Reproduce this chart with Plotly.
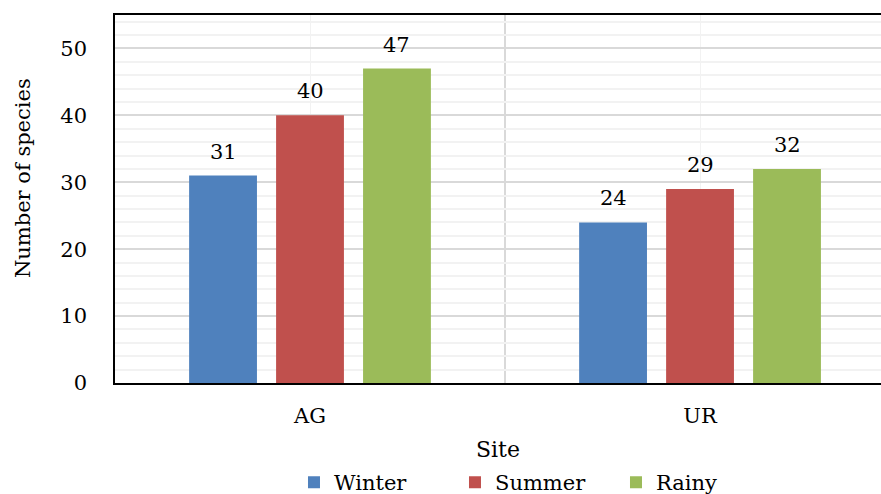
import plotly.graph_objects as go

# Species counts per site and season
sites = ["AG", "UR"]
seasons = ["Winter", "Summer", "Rainy"]
winter = [31, 24]
summer = [40, 29]
rainy = [47, 32]
colors = ["#4F81BD", "#C0504D", "#9BBB59"]
y_ticks = [0, 10, 20, 30, 40, 50]

series = [winter, summer, rainy]

FONT = "DejaVu Serif"
W, H = 881, 494
M_L, M_R, M_T, M_B = 115, 0, 15, 111
X_RANGE = [-0.5, 1.464]
BARGAP = 0.331
GROUPGAP = 0.22

x_pos = list(range(len(sites)))

fig = go.Figure()
for name, vals, col in zip(seasons, series, colors):
    fig.add_trace(go.Bar(
        x=x_pos, y=vals, name=name,
        marker=dict(color=col, line=dict(width=0)),
    ))

# value labels above each bar, placed at the centre of its slot
plot_w = W - M_L - M_R
px_per_cat = plot_w / (X_RANGE[1] - X_RANGE[0])
slot_px = px_per_cat * (1 - BARGAP) / len(seasons)
for i, vals in enumerate(series):
    for xp, v in zip(x_pos, vals):
        fig.add_annotation(
            x=xp, y=v, text=str(v), showarrow=False,
            xshift=(i - (len(seasons) - 1) / 2) * slot_px,
            yshift=24, yanchor="middle",
            font=dict(family=FONT, size=21, color="#000000"),
        )

# vertical axis title, sitting a little above the plot's mid-height
fig.add_annotation(
    text="Number of species", textangle=-90, showarrow=False,
    xref="paper", yref="paper", x=-0.120, y=0.557,
    xanchor="center", yanchor="middle",
    font=dict(family=FONT, size=21, color="#000000"),
)

fig.update_layout(
    width=W, height=H,
    margin=dict(l=M_L, r=M_R, t=M_T, b=M_B, autoexpand=False),
    paper_bgcolor="white", plot_bgcolor="white",
    barmode="group", bargap=BARGAP, bargroupgap=GROUPGAP,
    font=dict(family=FONT, size=21, color="#000000"),
    showlegend=True,
    legend=dict(
        orientation="h", xref="container", yref="container",
        x=0.3337, xanchor="left", y=0.023, yanchor="middle",
        entrywidthmode="pixels", entrywidth=116,
        font=dict(family=FONT, size=21, color="#000000"),
        bgcolor="rgba(0,0,0,0)",
    ),
)

fig.update_xaxes(
    range=X_RANGE,
    tickvals=x_pos, ticktext=sites,
    showgrid=True, gridcolor="#F2F2F2", gridwidth=1.3,
    minor=dict(tickvals=[0.5], showgrid=True, gridcolor="#D9D9D9", gridwidth=1.5),
    zeroline=False,
    showline=True, linecolor="#000000", linewidth=1.6, mirror=True,
    ticks="", ticklabelstandoff=13,
    title=dict(text="Site", standoff=25, font=dict(family=FONT, size=22)),
)
fig.update_yaxes(
    range=[0, 55],
    tickvals=y_ticks,
    showgrid=True, gridcolor="#D9D9D9", gridwidth=1.5,
    minor=dict(dtick=2, showgrid=True, gridcolor="#F2F2F2", gridwidth=1.5),
    zeroline=False,
    showline=True, linecolor="#000000", linewidth=1.6, mirror=False,
    ticks="", ticklabelstandoff=22,
)

fig.write_html("out.html")
